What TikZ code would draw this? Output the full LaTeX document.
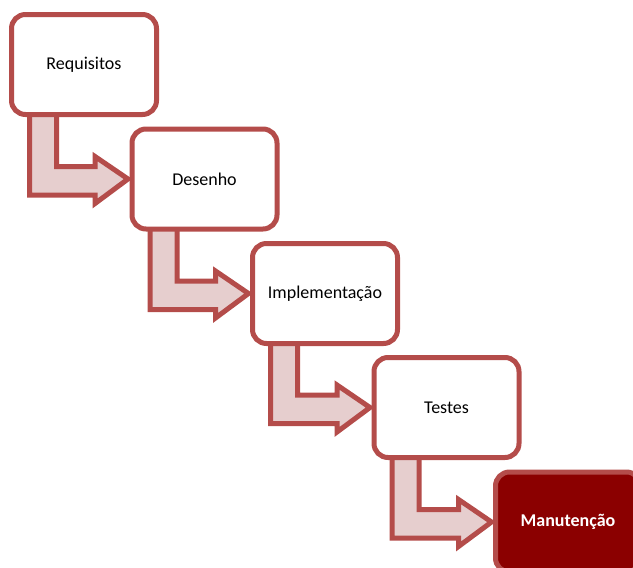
\documentclass[tikz,border=0pt]{standalone}
\usepackage{fontspec}
\setmainfont{Carlito}
\usetikzlibrary{calc}
\definecolor{edgered}{RGB}{180,76,74}
\definecolor{arrowfill}{RGB}{230,206,206}
\definecolor{darkfill}{RGB}{139,0,0}
\pgfdeclarelayer{bg}
\pgfsetlayers{bg,main}
\tikzset{
  stage/.style={draw=edgered, line width=5pt, rounded corners=14pt, fill=white,
    minimum width=145pt, minimum height=100pt, inner sep=0pt, outer sep=0pt,
    font=\fontsize{18}{21}\selectfont, text=black},
  laststage/.style={stage, fill=darkfill, text=white, font=\fontsize{18}{21}\selectfont\bfseries},
  bent/.style={draw=edgered, fill=arrowfill, line width=5pt, line join=miter}
}
\newcommand{\bentarrow}[2]{%
  \path[bent] let \p1=(#1.south west), \p2=(#2.west) in
    (\x1+18pt,\y1+6pt) -- (\x1+18pt,\y2-16pt) -- (\x2-37pt,\y2-16pt) -- (\x2-37pt,\y2-24.5pt)
    -- (\x2-4pt,\y2) -- (\x2-37pt,\y2+22.5pt) -- (\x2-37pt,\y2+12.5pt) -- (\x1+45pt,\y2+12.5pt)
    -- (\x1+45pt,\y1+6pt) -- cycle;}
\begin{document}
\begin{tikzpicture}[x=1pt,y=-1pt]
\useasboundingbox (0,0) rectangle (633,568);
\clip (0,0) rectangle (633,568);
\node[stage] (req) at (84,64.5) {Requisitos};
\node[stage] (des) at (204.5,179) {Desenho};
\node[stage] (imp) at (325,293.5) {Implementação};
\node[stage] (tes) at (446.5,407.5) {Testes};
\node[laststage] (man) at (568,522) {Manutenção};
\begin{pgfonlayer}{bg}
\bentarrow{req}{des}
\bentarrow{des}{imp}
\bentarrow{imp}{tes}
\bentarrow{tes}{man}
\end{pgfonlayer}
\end{tikzpicture}
\end{document}
